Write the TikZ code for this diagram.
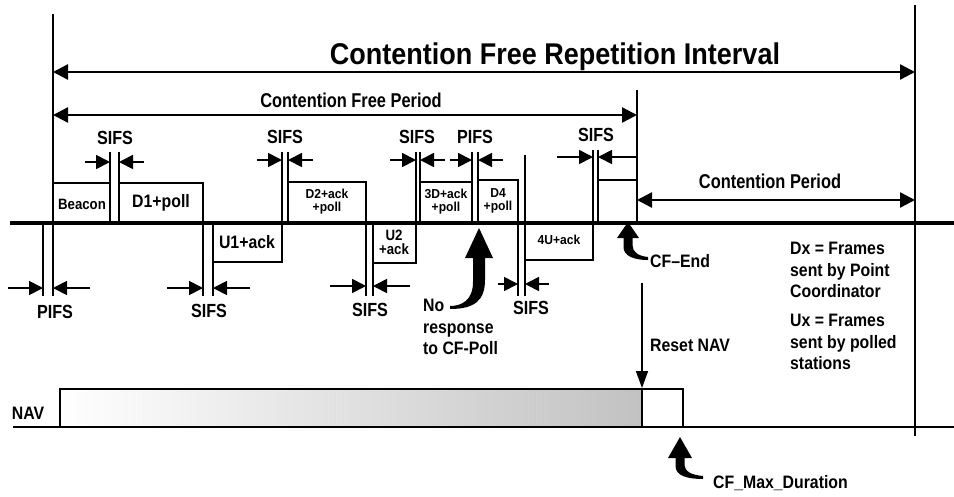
\documentclass[tikz,border=0pt]{standalone}
\usepackage{fontspec}
\setmainfont{Liberation Sans}
\usetikzlibrary{arrows.meta}
\begin{document}
\begin{tikzpicture}[x=1pt,y=-1pt,
  ln/.style={line width=1.7pt},
  tl/.style={line width=3.2pt},
  dim/.style={line width=2.4pt,{Triangle[length=15pt,width=15pt]}-{Triangle[length=15pt,width=15pt]}},
  gaparr/.style={line width=1.7pt,-{Triangle[length=14pt,width=14pt]}},
  thinarr/.style={line width=1.7pt,-{Triangle[length=17pt,width=12pt]}},
  lab/.style={font=\bfseries\fontsize{19}{22}\selectfont, inner sep=0pt, xscale=0.85},
  blab/.style={font=\bfseries\fontsize{18}{22}\selectfont, inner sep=0pt, xscale=0.88},
  slab/.style={font=\bfseries\fontsize{13}{13}\selectfont, inner sep=0pt, xscale=0.93, align=center},
  txt/.style={font=\bfseries\fontsize{18}{21.5}\selectfont, inner sep=0pt, xscale=0.88, align=left},
]
\useasboundingbox (0,0) rectangle (954,496);

% main lines
\draw[tl] (10,223) -- (954,223);
\draw[ln] (53,14) -- (53,296);
\draw[ln] (915,5) -- (915,436);
\draw[ln] (637,90) -- (637,223);

% dimension arrows
\draw[dim] (53,72) -- (915,72);
\draw[dim] (53,115) -- (637,115);
\draw[dim] (637,200) -- (915,200);
\node[font=\bfseries\fontsize{30}{34}\selectfont, inner sep=0pt, xscale=0.9] (cfri) at (555,57) {Contention Free Repetition Interval};
\node[font=\bfseries\fontsize{20}{24}\selectfont, inner sep=0pt, xscale=0.82] (cfp) at (351,100) {Contention Free Period};
\node[font=\bfseries\fontsize{20}{24}\selectfont, inner sep=0pt, xscale=0.82] (cp) at (770,181) {Contention Period};

% frames
\draw[ln] (43,223) -- (43,296);
\draw[ln] (53,183) -- (110,183);
\draw[ln] (110,223) -- (110,152);
\draw[ln] (119,152) -- (119,223);
\draw[ln] (119,183) -- (203,183) -- (203,296);
\draw[ln] (213,223) -- (213,296);
\draw[ln] (213,262) -- (282,262) -- (282,152);
\draw[ln] (288,152) -- (288,223);
\draw[ln] (288,182) -- (366,182) -- (366,296);
\draw[ln] (373,223) -- (373,296);
\draw[ln] (373,263) -- (416,263) -- (416,152);
\draw[ln] (420,152) -- (420,223);
\draw[ln] (420,182) -- (472,182);
\draw[ln] (472,152) -- (472,223);
\draw[ln] (478,152) -- (478,223);
\draw[ln] (478,180) -- (518,180) -- (518,296);
\draw[ln] (525,155) -- (525,296);
\draw[ln] (525,260) -- (593,260) -- (593,150);
\draw[ln] (598,150) -- (598,223);
\draw[ln] (598,180) -- (637,180);

\node[font=\bfseries\fontsize{15}{17}\selectfont, inner sep=0pt, xscale=0.88] (beacon) at (82,204) {Beacon};
\node[blab] (d1) at (161,203) {D1+poll};
\node[blab] (u1) at (247,242) {U1+ack};
\node[slab] (d2) at (327,202) {D2+ack\\+poll};
\node[slab, font=\bfseries\fontsize{15}{14}\selectfont, xscale=0.95] (u2) at (394,242) {U2\\+ack};
\node[slab] (d3) at (446,202) {3D+ack\\+poll};
\node[slab] (d4) at (498,201) {D4\\+poll};
\node[slab] (u4) at (559,240) {4U+ack};

% interframe space markers
\draw[gaparr] (8,288) -- (43,288);   \draw[gaparr] (90,288) -- (53,288);
\draw[gaparr] (85,162) -- (110,162); \draw[gaparr] (144,162) -- (119,162);
\draw[gaparr] (167,288) -- (203,288);\draw[gaparr] (250,288) -- (213,288);
\draw[gaparr] (257,160) -- (282,160);\draw[gaparr] (313,160) -- (288,160);
\draw[gaparr] (330,286) -- (366,286);\draw[gaparr] (410,286) -- (373,286);
\draw[gaparr] (390,160) -- (416,160);\draw[gaparr] (445,160) -- (420,160);
\draw[gaparr] (450,160) -- (472,160);\draw[gaparr] (503,160) -- (478,160);
\draw[gaparr] (498,284) -- (518,284);\draw[gaparr] (549,284) -- (525,284);
\draw[gaparr] (557,157) -- (593,157);\draw[gaparr] (637,157) -- (598,157);

\node[lab] (s1) at (115,138) {SIFS};
\node[lab] (s2) at (285,137) {SIFS};
\node[lab] (s3) at (417,137) {SIFS};
\node[lab] (p2) at (475,137) {PIFS};
\node[lab] (s4) at (596,135) {SIFS};
\node[lab] (p1) at (55,312) {PIFS};
\node[lab] (s5) at (209,311) {SIFS};
\node[lab] (s6) at (370,310) {SIFS};
\node[lab] (s7) at (531,308) {SIFS};

% annotations
\node[txt, anchor=north west] (nores) at (423,299) {No\\response\\to CF-Poll};
\fill (465,258) -- (479,228) -- (493,258) -- cycle;
\fill (473,257) -- (473,282) .. controls (473,300) and (462,306) .. (450,306) -- (450,309) .. controls (475,309) and (485,300) .. (485,280) -- (485,257) -- cycle;

\node[txt, anchor=west] (cfend) at (650,261) {CF--End};
\fill (617,238) -- (628,222) -- (639,238) -- cycle;
\fill (623.5,237) -- (623.5,247) .. controls (623.5,256) and (634,260) .. (648,260) -- (648,257) .. controls (638,256) and (632.5,252) .. (632.5,245) -- (632.5,237) -- cycle;

\node[txt, anchor=west] (reset) at (650,345) {Reset NAV};
\coordinate (rtop) at (642,283);
\coordinate (rbot) at (642,388);
\draw[thinarr] (rtop) -- (rbot);

\node[txt, anchor=north west] (leg1) at (790,242) {Dx = Frames\\sent by Point\\Coordinator};
\node[txt, anchor=north west] (leg2) at (790,314) {Ux = Frames\\sent by polled\\stations};

% NAV
\node[txt, anchor=center] (nav) at (28,413) {NAV};
\shade[left color=white, right color=black!24] (60,389) rectangle (642,427);
\draw[ln] (60,427) -- (60,389) -- (642,389) -- (642,427);
\draw[ln] (642,389) -- (683,389) -- (683,427);
\draw[line width=2.4pt] (13,427) -- (954,427);

\node[txt, anchor=west] (cfmax) at (713,483) {CF\_Max\_Duration};
\fill (668,458) -- (680,437) -- (692,458) -- cycle;
\fill (675.5,457) -- (675.5,466) .. controls (675.5,476) and (688,479) .. (703,479) -- (703,476) .. controls (692,475) and (684.5,472) .. (684.5,464) -- (684.5,457) -- cycle;
\end{tikzpicture}
\end{document}
